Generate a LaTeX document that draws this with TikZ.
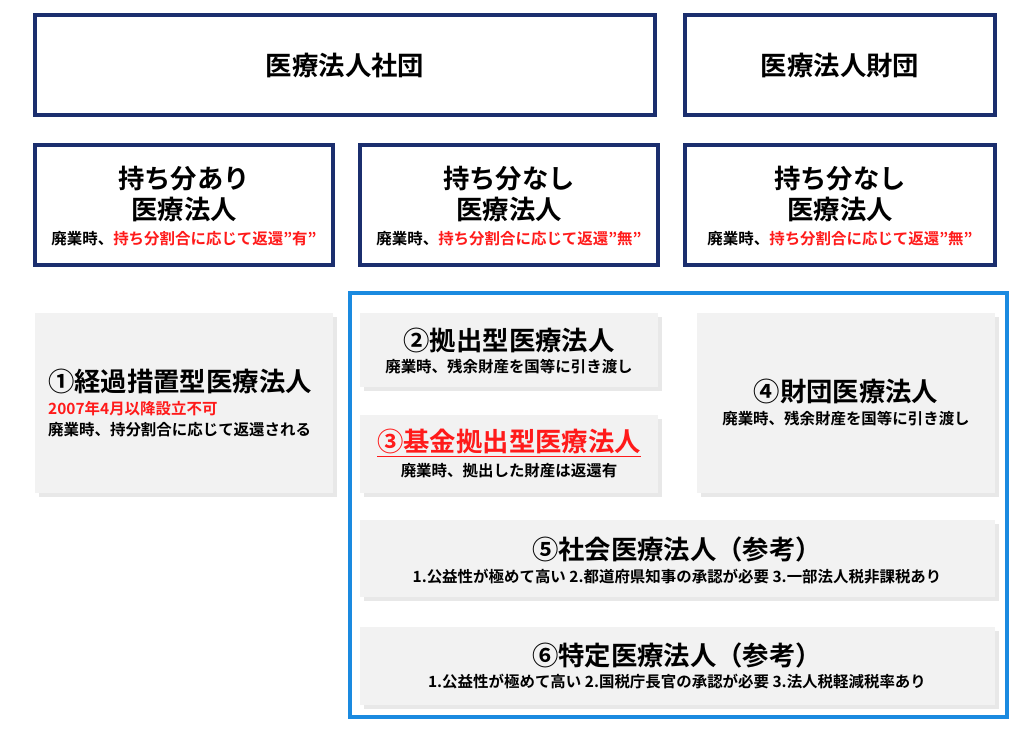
\documentclass[tikz,border=0pt]{standalone}
\usepackage{fontspec}
\setmainfont{Noto Sans CJK JP}[BoldFont={* Bold}]
\usetikzlibrary{shadows}
\definecolor{navy}{HTML}{1B2E6E}
\definecolor{bluefr}{HTML}{1A8AE0}
\definecolor{grayf}{HTML}{F2F2F2}
\definecolor{redt}{HTML}{FF1A1A}
\begin{document}
\begin{tikzpicture}[x=0.02cm,y=-0.02cm,
 navybox/.style={draw=navy,line width=2.3pt,fill=white},
 graybox/.style={fill=grayf,drop shadow={opacity=0.18,shadow xshift=2pt,shadow yshift=-2pt}},
 big/.style={font=\fontsize{15}{18}\selectfont\bfseries},
 sub/.style={font=\fontsize{8.8}{10}\selectfont\bfseries}]
\useasboundingbox (0,0) rectangle (1024,747);
\fill[white] (0,0) rectangle (1024,747);
% top row
\draw[navybox] (35,15) rectangle (655,115);
\draw[navybox] (685,15) rectangle (995,115);
\node[big] (shadan) at (345,65) {医療法人社団};
\node[big] (zaidan) at (840,65) {医療法人財団};
% second row
\draw[navybox] (35,145) rectangle (333,265);
\draw[navybox] (360,145) rectangle (658,265);
\draw[navybox] (685,145) rectangle (995,265);
\node[big,align=center] (a1) at (184,194) {持ち分あり\\医療法人};
\node[sub] (a1s) at (184,239) {廃業時、\textcolor{redt}{持ち分割合に応じて返還”有”}};
\node[big,align=center] (a2) at (509,194) {持ち分なし\\医療法人};
\node[sub] (a2s) at (509,239) {廃業時、\textcolor{redt}{持ち分割合に応じて返還”無”}};
\node[big,align=center] (a3) at (840,194) {持ち分なし\\医療法人};
\node[sub] (a3s) at (840,239) {廃業時、\textcolor{redt}{持ち分割合に応じて返還”無”}};
% gray boxes
\fill[graybox] (35,313) rectangle (333,493);
\fill[graybox] (360,313) rectangle (658,387);
\fill[graybox] (360,415) rectangle (658,493);
\fill[graybox] (697,313) rectangle (995,493);
\fill[graybox] (360,520) rectangle (995,597);
\fill[graybox] (360,627) rectangle (995,705);
\draw[bluefr,line width=1.8pt] (350,293) rectangle (1007,717);
% texts
\node[big,anchor=west] (b1) at (42,381) {①経過措置型医療法人};
\node[sub,anchor=west,text=redt] (b1r) at (42,409) {2007年4月以降設立不可};
\node[sub,anchor=west] (b1s) at (42,430) {廃業時、持分割合に応じて返還される};
\node[big] (b2) at (509,340) {②拠出型医療法人};
\node[sub] (b2s) at (509,367) {廃業時、残余財産を国等に引き渡し};
\node[big,text=redt] (b3) at (509,443) {\underline{③基金拠出型医療法人}};
\node[sub] (b3s) at (509,471) {廃業時、拠出した財産は返還有};
\node[big] (b4) at (846,391) {④財団医療法人};
\node[sub] (b4s) at (846,419) {廃業時、残余財産を国等に引き渡し};
\node[big] (b5) at (677,549) {⑤社会医療法人（参考）};
\node[sub] (b5s) at (677,577) {1.公益性が極めて高い 2.都道府県知事の承認が必要 3.一部法人税非課税あり};
\node[big] (b6) at (677,655) {⑥特定医療法人（参考）};
\node[sub] (b6s) at (677,682) {1.公益性が極めて高い 2.国税庁長官の承認が必要 3.法人税軽減税率あり};
\end{tikzpicture}
\end{document}
